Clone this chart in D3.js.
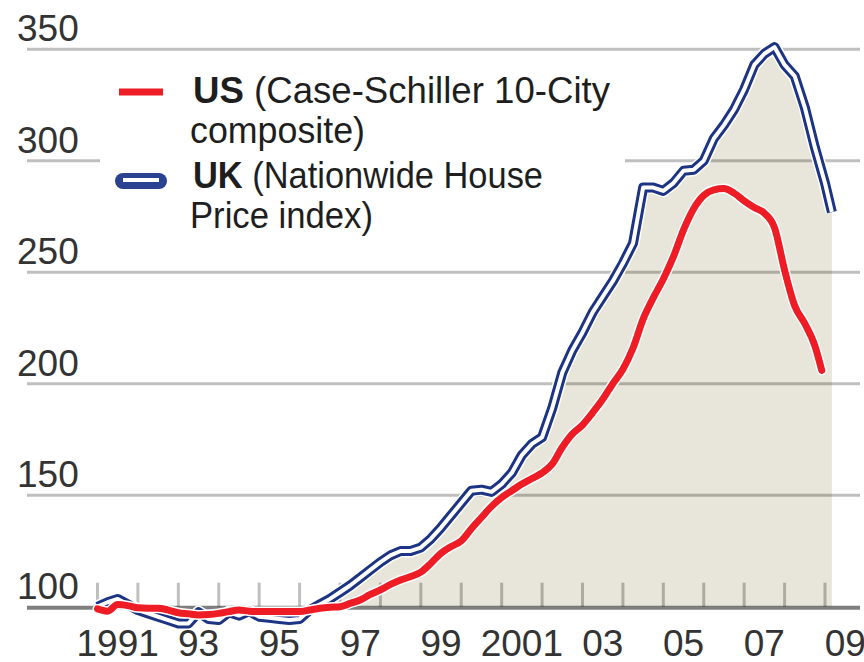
<!DOCTYPE html>
<html>
<head>
<meta charset="utf-8">
<script src="https://cdn.jsdelivr.net/npm/d3@7/dist/d3.min.js"></script>
<style>
  html, body { margin: 0; padding: 0; background: #fff; }
  svg { display: block; font-family: "Liberation Sans", Arial, sans-serif; }
</style>
</head>
<body>
<div class="chart"></div>
<script>
// quarterly index values, Jan 1991 = 100
const ukYears = [1991, 1991.25, 1991.5, 1991.75, 1992, 1992.25, 1992.5, 1992.75,
  1993, 1993.25, 1993.5, 1993.75, 1994, 1994.25, 1994.5, 1994.75,
  1995, 1995.25, 1995.5, 1995.75, 1996, 1996.25, 1996.5, 1996.75,
  1997, 1997.25, 1997.5, 1997.75, 1998, 1998.25, 1998.5, 1998.75,
  1999, 1999.25, 1999.5, 1999.75, 2000, 2000.25, 2000.5, 2000.75,
  2001, 2001.25, 2001.5, 2001.75, 2002, 2002.25, 2002.5, 2002.75,
  2003, 2003.25, 2003.5, 2003.75, 2004, 2004.25, 2004.5, 2004.75,
  2005, 2005.25, 2005.5, 2005.75, 2006, 2006.25, 2006.5, 2006.75,
  2007, 2007.25, 2007.5, 2007.75, 2008, 2008.25, 2008.5, 2008.75,
  2009, 2009.17];
const ukIndex = [100, 102, 103.5, 101, 98.5, 97, 95.5, 94,
  92.5, 92.5, 97.5, 94.5, 94, 97.5, 96, 98,
  95.5, 95, 94.5, 94, 94.5, 98.5, 101, 103.5,
  106.5, 109.5, 113, 116.5, 120, 123, 125, 125,
  126.5, 130.5, 135.5, 141, 146.5, 152, 152.5, 151.5,
  155, 160, 168, 173, 176, 189, 205, 215,
  223, 232, 239, 246, 254, 263, 288, 288,
  286.5, 290, 295.5, 296, 300, 310, 316, 323,
  332, 343, 348, 351, 343, 338, 324, 306,
  290, 277];

const usYears = [1991, 1991.25, 1991.5, 1991.75, 1992, 1992.25, 1992.5, 1992.75,
  1993, 1993.25, 1993.5, 1993.75, 1994, 1994.25, 1994.5, 1994.75,
  1995, 1995.25, 1995.5, 1995.75, 1996, 1996.25, 1996.5, 1996.75,
  1997, 1997.25, 1997.5, 1997.75, 1998, 1998.25, 1998.5, 1998.75,
  1999, 1999.25, 1999.5, 1999.75, 2000, 2000.25, 2000.5, 2000.75,
  2001, 2001.25, 2001.5, 2001.75, 2002, 2002.25, 2002.5, 2002.75,
  2003, 2003.25, 2003.5, 2003.75, 2004, 2004.25, 2004.5, 2004.75,
  2005, 2005.25, 2005.5, 2005.75, 2006, 2006.25, 2006.5, 2006.75,
  2007, 2007.25, 2007.5, 2007.75, 2008, 2008.25, 2008.5, 2008.75,
  2008.92];
const usIndex = [99, 98, 101, 100.5, 99.5, 99.3, 99.3, 98.5,
  97.3, 96.8, 96.3, 96.5, 97, 97.8, 98.5, 98,
  97.8, 97.8, 97.8, 97.8, 97.8, 98.5, 99.3, 99.8,
  100, 101.5, 103, 105.5, 107.5, 110, 112, 113.5,
  115.5, 119.5, 124, 127, 129.5, 135, 140, 145,
  149, 152, 155, 157.5, 160, 164, 171.5, 177.5,
  181.5, 187, 193, 200, 206.5, 216, 229, 238.5,
  247, 257, 269, 278.5, 284.5, 287, 287.6, 285.5,
  282, 279, 276.5, 270, 251, 235, 227, 217,
  206];

const yTicks = [100, 150, 200, 250, 300, 350];
const tickYears = d3.range(1991, 2010);
const yearLabels = [1991, 1993, 1995, 1997, 1999, 2001, 2003, 2005, 2007, 2009];
const yearText = ["1991", "93", "95", "97", "99", "2001", "03", "05", "07", "09"];

const legendLines = [
  { bold: "US", rest: " (Case-Schiller 10-City", y: 103, len: 417 },
  { bold: "", rest: "composite)", y: 143, len: 175 },
  { bold: "UK", rest: " (Nationwide House", y: 188, len: 350 },
  { bold: "", rest: "Price index)", y: 228, len: 183 }
];

const width = 864, height = 662;
const left = 27, right = 860;

const svg = d3.select(".chart").append("svg")
  .attr("width", width)
  .attr("height", height);

const x = d3.scaleLinear().domain([1991, 2009]).range([97.5, 825]);
const y = d3.scaleLinear().domain([100, 350]).range([606.7, 49.3]);

const uk = ukYears.map((t, i) => [t, ukIndex[i]]);
const us = usYears.map((t, i) => [t, usIndex[i]]);

// beige area under the UK line, only above the 100 line
svg.append("clipPath").attr("id", "above")
  .append("rect")
  .attr("x", 0).attr("y", 0)
  .attr("width", width).attr("height", y(100));

svg.append("path")
  .datum(uk)
  .attr("clip-path", "url(#above)")
  .attr("fill", "#e8e5da")
  .attr("d", d3.area()
    .x(d => x(d[0]))
    .y0(y(100))
    .y1(d => y(d[1])));

// gridlines
svg.selectAll(".grid")
  .data(yTicks.filter(d => d > 100))
  .enter().append("line")
    .attr("class", "grid")
    .attr("x1", left).attr("x2", right)
    .attr("y1", d => y(d)).attr("y2", d => y(d))
    .attr("stroke", "rgba(0,0,0,0.25)")
    .attr("stroke-width", 3);

// year ticks
svg.selectAll(".tick")
  .data(tickYears)
  .enter().append("line")
    .attr("class", "tick")
    .attr("x1", d => x(d)).attr("x2", d => x(d))
    .attr("y1", y(100) - 24).attr("y2", y(100))
    .attr("stroke", "rgba(0,0,0,0.25)")
    .attr("stroke-width", 3);

// base line
svg.append("line")
  .attr("x1", left).attr("x2", right)
  .attr("y1", y(100) + 1).attr("y2", y(100) + 1)
  .attr("stroke", "rgba(0,0,0,0.5)")
  .attr("stroke-width", 4);

// y labels, sitting above their gridline
svg.selectAll(".ylab")
  .data(yTicks)
  .enter().append("text")
    .attr("class", "ylab")
    .attr("x", 17)
    .attr("y", d => y(d) - 8)
    .attr("font-size", 37)
    .attr("fill", "#333")
    .text(d => d);

// year labels, centred inside each year
svg.selectAll(".xlab")
  .data(yearLabels)
  .enter().append("text")
    .attr("class", "xlab")
    .attr("x", d => x(d + 0.5))
    .attr("y", 656)
    .attr("text-anchor", "middle")
    .attr("font-size", 37)
    .attr("fill", "#333")
    .text((d, i) => yearText[i]);

// legend backdrop hides the 300 gridline
svg.append("rect")
  .attr("x", 100).attr("y", 62)
  .attr("width", 525).attr("height", 186)
  .attr("fill", "#fff");

// UK: blue double line
const ukLine = d3.line().x(d => x(d[0])).y(d => y(d[1]));
svg.append("path").datum(uk)
  .attr("fill", "none").attr("stroke", "#fff")
  .attr("stroke-width", 13).attr("stroke-linejoin", "round")
  .attr("d", ukLine);
svg.append("path").datum(uk)
  .attr("fill", "none").attr("stroke", "#1d3384")
  .attr("stroke-width", 10).attr("stroke-linejoin", "round")
  .attr("d", ukLine);
svg.append("path").datum(uk)
  .attr("fill", "none").attr("stroke", "#fff")
  .attr("stroke-width", 4).attr("stroke-linejoin", "round")
  .attr("d", ukLine);

// US: red line with white halo
const usLine = d3.line().curve(d3.curveMonotoneX).x(d => x(d[0])).y(d => y(d[1]));
svg.append("path").datum(us)
  .attr("fill", "none").attr("stroke", "#fff")
  .attr("stroke-width", 10).attr("stroke-linecap", "round")
  .attr("d", usLine);
svg.append("path").datum(us)
  .attr("fill", "none").attr("stroke", "#ee1c25")
  .attr("stroke-width", 7).attr("stroke-linecap", "round")
  .attr("d", usLine);

// legend swatches
svg.append("line")
  .attr("x1", 119).attr("x2", 163).attr("y1", 92).attr("y2", 92)
  .attr("stroke", "#ee1c25").attr("stroke-width", 7);
svg.append("line")
  .attr("x1", 123).attr("x2", 159).attr("y1", 181).attr("y2", 181)
  .attr("stroke", "#2a428f").attr("stroke-width", 16).attr("stroke-linecap", "round");
svg.append("line")
  .attr("x1", 123).attr("x2", 159).attr("y1", 180).attr("y2", 180)
  .attr("stroke", "#fff").attr("stroke-width", 4);

// legend text
const leg = svg.selectAll(".leg")
  .data(legendLines)
  .enter().append("text")
    .attr("class", "leg")
    .attr("x", d => d.bold ? 193 : 190)
    .attr("y", d => d.y)
    .attr("font-size", 37)
    .attr("fill", "#1e1e1e")
    .attr("textLength", d => d.len)
    .attr("lengthAdjust", "spacingAndGlyphs");
leg.append("tspan").attr("font-weight", "bold").text(d => d.bold);
leg.append("tspan").text(d => d.rest);
</script>
</body>
</html>
